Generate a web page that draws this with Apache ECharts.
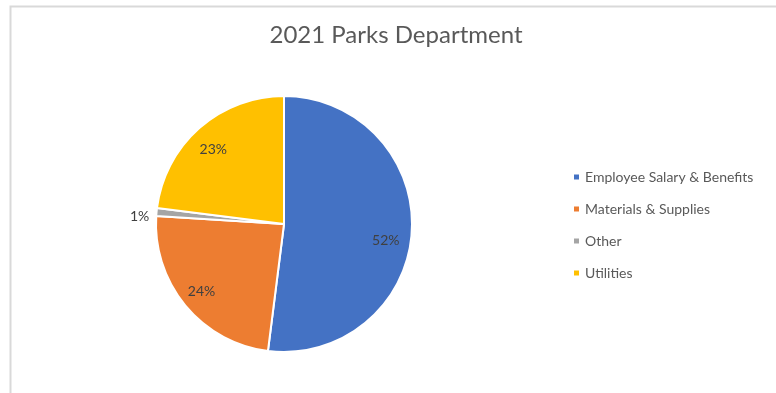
<!DOCTYPE html>
<html>
<head>
<meta charset="utf-8">
<script src="https://cdn.jsdelivr.net/npm/echarts@6/dist/echarts.min.js"></script>
<style>
  html, body { margin: 0; padding: 0; background: #fff; }
  #chart { width: 776px; height: 393px; }
</style>
</head>
<body>
<div id="chart"></div>
<script>
// 2021 Parks Department budget share by category
const categories = ['Employee Salary & Benefits', 'Materials & Supplies', 'Other', 'Utilities'];
const shares = [52, 24, 1, 23];
const colors = ['#4472C4', '#ED7D31', '#A5A5A5', '#FFC000'];

const FONT = 'Lato, "Open Sans", sans-serif';
const center = [284, 224];
const R = 128;

// small nudges so the percentage labels sit like the spreadsheet's own
const labelNudge = [[-5, 10], [0, -1], [4, 7], [0, 6]];

const sliceData = categories.map((name, i) => ({
  name, value: shares[i], itemStyle: { color: colors[i] }
}));

// transparent copies of the pie used only to place the percentage labels
function labelRing(outer, showIdx) {
  return {
    type: 'pie', silent: true, legendHoverLink: false,
    center, radius: [0, outer], startAngle: 90, clockwise: true,
    emphasis: { disabled: true },
    itemStyle: { color: 'rgba(0,0,0,0)', borderWidth: 0 },
    labelLine: { show: false },
    labelLayout: p => ({ dx: labelNudge[p.dataIndex][0], dy: labelNudge[p.dataIndex][1] }),
    data: categories.map((name, i) => ({
      name, value: shares[i],
      label: {
        show: showIdx(i), position: 'inside',
        formatter: shares[i] + '%',
        color: '#404040', fontSize: 14, fontFamily: FONT
      }
    }))
  };
}

const chart = echarts.init(document.getElementById('chart'), null, { renderer: 'canvas' });
chart.setOption({
  animation: false,
  backgroundColor: '#ffffff',
  graphic: [{
    type: 'rect', silent: true,
    shape: { x: 10.5, y: 6.5, width: 800, height: 400 },
    style: { fill: 'none', stroke: '#d9d9d9', lineWidth: 2 }
  }],
  title: {
    text: '2021 Parks Department',
    left: 391, top: 18, textAlign: 'center',
    textStyle: { color: '#595959', fontSize: 24, fontWeight: 'normal', fontFamily: FONT }
  },
  legend: {
    orient: 'vertical', left: 567, top: 164,
    itemWidth: 7, itemHeight: 7, itemGap: 16, icon: 'rect',
    data: categories,
    textStyle: { color: '#595959', fontSize: 14, lineHeight: 16, fontFamily: FONT }
  },
  series: [
    {
      type: 'pie', center, radius: [0, R], startAngle: 90, clockwise: true,
      silent: true,
      itemStyle: { borderColor: '#ffffff', borderWidth: 2 },
      label: { show: false }, labelLine: { show: false },
      data: sliceData
    },
    labelRing(2 * 104, i => i !== 2),
    labelRing(2 * 146, i => i === 2)
  ]
});
</script>
</body>
</html>
